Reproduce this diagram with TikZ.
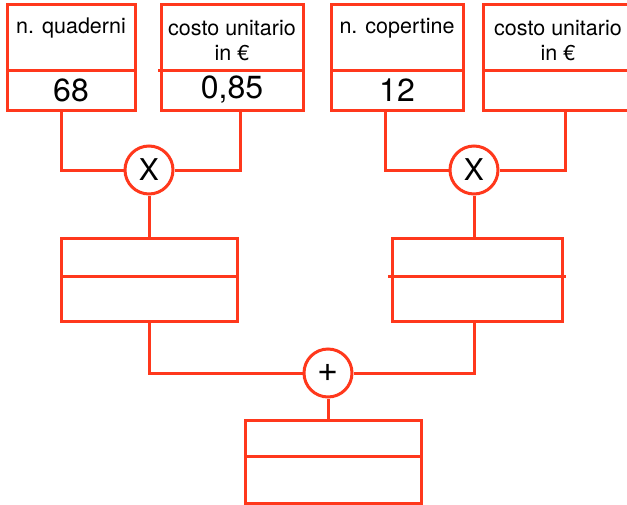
\documentclass[tikz,border=0pt]{standalone}
\usepackage{fontspec}
\setmainfont{TeX Gyre Heros}
\definecolor{lineRed}{RGB}{255,56,28}
\begin{document}
\begin{tikzpicture}[x=1pt,y=-1pt,
  box/.style={draw=lineRed,line width=3pt,rectangle,inner sep=0pt},
  op/.style={draw=lineRed,line width=3pt,circle,fill=white,minimum size=48pt,inner sep=0pt,font=\fontsize{30}{30}\selectfont},
  wire/.style={draw=lineRed,line width=3pt},
  head/.style={font=\fontsize{21.5}{25}\selectfont,align=center,inner sep=0pt},
  val/.style={font=\fontsize{32}{32}\selectfont,inner sep=0pt}]
\useasboundingbox (0,0) rectangle (627,504);
% top boxes
\node[box,minimum width=128pt,minimum height=106pt] (b1) at (71,57) {};
\node[box,minimum width=142pt,minimum height=106pt] (b2) at (232,57) {};
\node[box,minimum width=132pt,minimum height=106pt] (b3) at (397,57) {};
\node[box,minimum width=150pt,minimum height=106pt] (b4) at (558,57) {};
\draw[wire] (7,70) -- (137,70);
\draw[wire] (158,70) -- (303,70);
\draw[wire] (331,70) -- (463,70);
\draw[wire] (483,70) -- (633,70);
\node[head] (t1) at (71,28.5) {n. quaderni};
\node[head] (t2) at (232,40.5) {costo unitario\\in €};
\node[head] (t3) at (397,28.5) {n. copertine};
\node[head] (t4) at (558,40.5) {costo unitario\\in €};
\node[val] (v1) at (71,90) {68};
\node[val] (v2) at (232,90) {0,85};
\node[val] (v3) at (397,90) {12};
% operators
\node[op] (m1) at (149,170) {X};
\node[op] (m2) at (474,170) {X};
\node[op,font=\fontsize{36}{36}\selectfont] (p) at (328,373) {+};
% result boxes
\node[box,minimum width=176pt,minimum height=83pt] (r1) at (149,279.5) {};
\node[box,minimum width=170pt,minimum height=83pt] (r2) at (477,279.5) {};
\node[box,minimum width=176pt,minimum height=83pt] (r3) at (333,461.5) {};
\draw[wire] (61,276) -- (237,276);
\draw[wire] (388,276) -- (566,276);
\draw[wire] (245,456) -- (421,456);
% connectors
\draw[wire] ([xshift=-10pt]b1.south) |- (m1.west);
\draw[wire] ([xshift=8pt]b2.south) |- (m1.east);
\draw[wire] ([xshift=-12pt]b3.south) |- (m2.west);
\draw[wire] ([xshift=7pt]b4.south) |- (m2.east);
\draw[wire] (m1.south) -- (m1.south |- r1.north);
\draw[wire] (m2.south) -- (m2.south |- r2.north);
\draw[wire] (r1.south) |- (p.west);
\draw[wire] (r2.south -| m2.south) |- (p.east);
\draw[wire] (p.south) -- (p.south |- r3.north);
\end{tikzpicture}
\end{document}
